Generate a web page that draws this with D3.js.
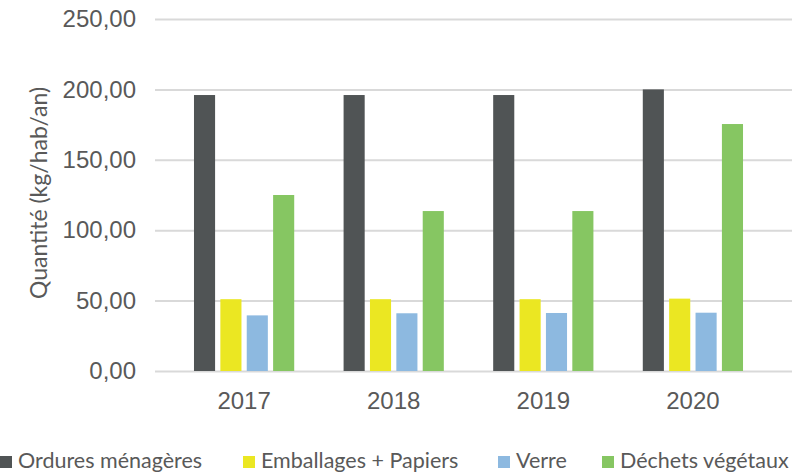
<!DOCTYPE html>
<html>
<head>
<meta charset="utf-8">
<script src="https://cdn.jsdelivr.net/npm/d3@7"></script>
<style>
  body { margin: 0; background: #fff; }
  svg { display: block; font-family: Lato, "Open Sans", sans-serif; }
  .tick text { fill: #595959; }
</style>
</head>
<body>
<svg id="chart" width="798" height="474"></svg>
<script>
const YEARS = ['2017', '2018', '2019', '2020']
const SERIES = ['Ordures ménagères', 'Emballages + Papiers', 'Verre', 'Déchets végétaux']
const COLORS = ['#505455', '#ebe722', '#8db9e0', '#86c662']

const ordures = [196, 196, 196, 200]
const emballages = [51, 51, 51, 51.4]
const verre = [39.5, 41, 41.2, 41.4]
const vegetaux = [125, 113.6, 113.6, 175.4]

const Y_TICKS = [0, 50, 100, 150, 200, 250]

const values = [ordures, emballages, verre, vegetaux]
const rows = YEARS.map((year, i) => ({
    year,
    items: SERIES.map((s, j) => ({ key: s, value: values[j][i], color: COLORS[j] }))
}))

const svg = d3.select('#chart')
const textColor = '#595959'

const y = d3.scaleLinear()
    .domain([0, 250])
    .range([371, 19])

const x0 = d3.scaleBand()
    .domain(YEARS)
    .range([169.3, 767.7])
    .paddingInner(0.33)
    .paddingOuter(0.165)

const x1 = d3.scaleBand()
    .domain(SERIES)
    .range([0, x0.bandwidth()])
    .paddingInner(0.2)

const fmt = (v) => d3.format('.2f')(v).replace('.', ',')

// grid + y labels
const yAxis = svg.append('g')
    .attr('transform', 'translate(155, 0)')
    .call(d3.axisLeft(y)
        .tickValues(Y_TICKS)
        .tickSize(-637)
        .tickPadding(19)
        .tickFormat(fmt))
yAxis.select('.domain').remove()
yAxis.selectAll('.tick line')
    .attr('stroke', '#d9d9d9')
    .attr('stroke-width', 2)
yAxis.selectAll('.tick text')
    .style('font-size', '24px')

// bars
const groups = svg.selectAll('.group')
    .data(rows)
    .enter()
    .append('g')
        .classed('group', true)
        .attr('transform', (d) => `translate(${x0(d.year)}, 0)`)

groups.selectAll('rect')
    .data((d) => d.items)
    .enter()
    .append('rect')
        .attr('x', (d) => x1(d.key))
        .attr('width', x1.bandwidth())
        .attr('y', (d) => y(d.value))
        .attr('height', (d) => y(0) - y(d.value))
        .attr('fill', (d) => d.color)

// x labels
const xAxis = svg.append('g')
    .attr('transform', `translate(0, ${y(0)})`)
    .call(d3.axisBottom(x0).tickSize(0).tickPadding(21))
xAxis.select('.domain').remove()
xAxis.selectAll('.tick text')
    .style('font-size', '24px')

// axis title
svg.append('text')
    .attr('transform', 'translate(47, 193) rotate(-90)')
    .attr('text-anchor', 'middle')
    .attr('fill', textColor)
    .style('font-size', '23px')
    .text('Quantité (kg/hab/an)')

// legend
const LEGEND_X = [0, 243, 498, 602]
const legend = svg.selectAll('.legend')
    .data(SERIES)
    .enter()
    .append('g')
        .classed('legend', true)
        .attr('transform', (d, i) => `translate(${LEGEND_X[i]}, 456)`)

legend.append('rect')
    .attr('width', 12)
    .attr('height', 12)
    .attr('fill', (d, i) => COLORS[i])

legend.append('text')
    .attr('x', 18)
    .attr('y', 12)
    .attr('fill', textColor)
    .style('font-size', '21.5px')
    .text((d) => d)
</script>
</body>
</html>
